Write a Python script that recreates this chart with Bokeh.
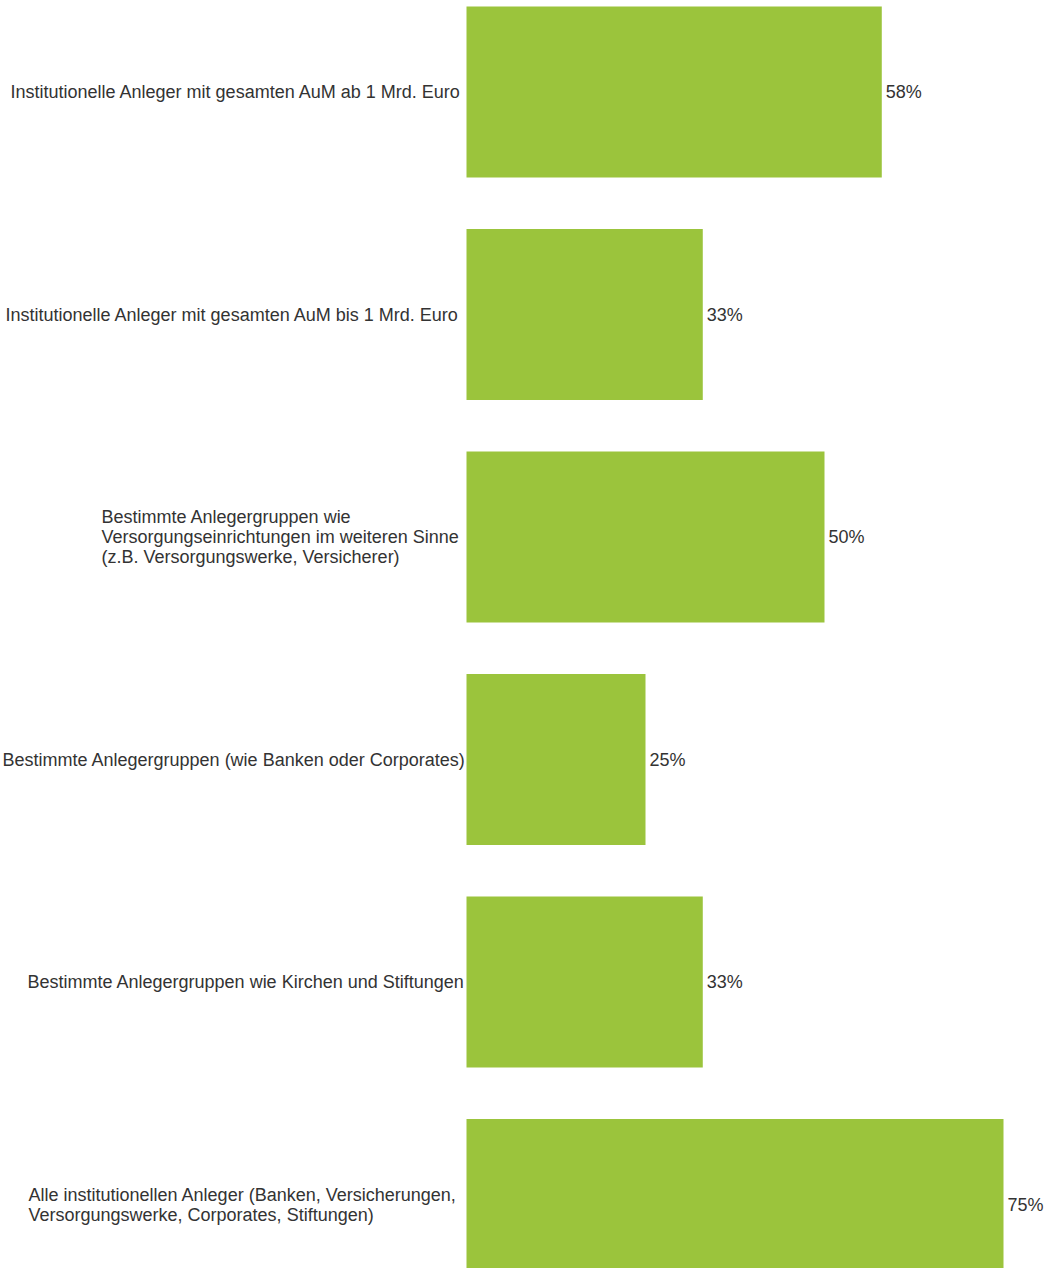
from bokeh.plotting import figure
from bokeh.models import Range1d, ColumnDataSource
from bokeh.embed import file_html
from bokeh.resources import INLINE
from bokeh.core.properties import value

categories = [
    "Institutionelle Anleger mit gesamten AuM ab 1 Mrd. Euro",
    "Institutionelle Anleger mit gesamten AuM bis 1 Mrd. Euro",
    "Bestimmte Anlegergruppen wie\nVersorgungseinrichtungen im weiteren Sinne\n(z.B. Versorgungswerke, Versicherer)",
    "Bestimmte Anlegergruppen (wie Banken oder Corporates)",
    "Bestimmte Anlegergruppen wie Kirchen und Stiftungen",
    "Alle institutionellen Anleger (Banken, Versicherungen,\nVersorgungswerke, Corporates, Stiftungen)",
]
values = [58, 33, 50, 25, 33, 75]

# style: left start of each category label, in screen px relative to bar start
label_offsets = [-456, -461, -365, -464, -439, -438]

n = len(categories)
pos = [n - 1 - i for i in range(n)]
value_texts = [f"{v}%" for v in values]

src = ColumnDataSource(dict(
    pos=pos, val=values, cat=categories, vt=value_texts,
    zero=[0] * n, off=label_offsets,
))

W, H = 1045, 1268
px_per_unit_x = 7.16
bar_start_px = 466
pitch = 222.5
top_center_px = 91.5

x0 = -bar_start_px / px_per_unit_x
x1 = (W - bar_start_px) / px_per_unit_x
y1 = (n - 1) + top_center_px / pitch
y0 = y1 - H / pitch

p = figure(width=W, height=H, output_backend="svg", toolbar_location=None,
           x_range=Range1d(x0, x1), y_range=Range1d(y0, y1),
           min_border=0)
p.axis.visible = False
p.grid.visible = False
p.outline_line_color = None
p.background_fill_color = "white"
p.border_fill_color = "white"

p.hbar(y="pos", left=0, right="val", height=171 / pitch, source=src,
       fill_color="#9BC43C", line_color=None)

p.text(x="val", y="pos", text="vt", source=src, x_offset=4,
       text_align="left", text_baseline="middle",
       text_font=value("Liberation Sans"), text_font_size="18px",
       text_color="#333333")

p.text(x="zero", y="pos", text="cat", source=src, x_offset="off",
       text_align="left", text_baseline="middle", text_line_height=1.0,
       text_font=value("Liberation Sans"), text_font_size="18px",
       text_color="#333333")

open("out.html", "w").write(file_html(p, INLINE))
